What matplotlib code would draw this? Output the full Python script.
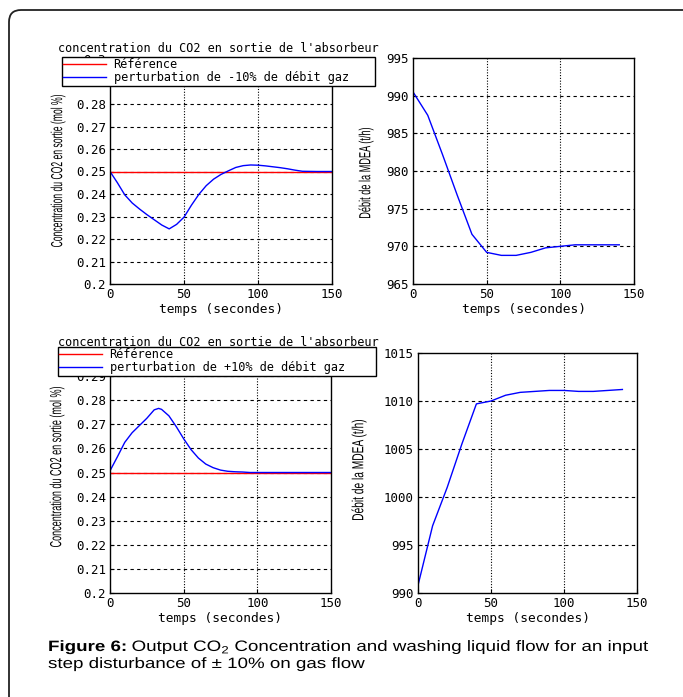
import matplotlib
matplotlib.use('Agg')
import matplotlib.pyplot as plt
from matplotlib.patches import FancyBboxPatch, PathPatch
from matplotlib.transforms import IdentityTransform, Affine2D
from matplotlib.textpath import TextPath
from matplotlib.font_manager import FontProperties

# data
t_neg = [0, 5, 10, 15, 20, 25, 30, 35, 40, 45, 50, 55, 60, 65, 70, 75, 80, 85, 90, 95,
         100, 105, 110, 115, 120, 125, 130, 140, 150]
co2_neg = [0.2500, 0.2450, 0.2396, 0.2360, 0.2333, 0.2308, 0.2285, 0.2262, 0.2245, 0.2265,
           0.2297, 0.2350, 0.2398, 0.2437, 0.2466, 0.2487, 0.2503, 0.2518, 0.2526, 0.2529,
           0.2528, 0.2525, 0.2521, 0.2517, 0.2512, 0.2506, 0.2501, 0.2500, 0.2500]

t_pos = [0, 5, 10, 15, 20, 25, 30, 33, 35, 40, 45, 50, 55, 60, 65, 70, 75, 80, 85, 90,
         95, 100, 150]
co2_pos = [0.2507, 0.2565, 0.2625, 0.2665, 0.2695, 0.2725, 0.2760, 0.2766, 0.2762, 0.2735,
           0.2690, 0.2640, 0.2595, 0.2560, 0.2535, 0.2520, 0.2510, 0.2505, 0.2503, 0.2502,
           0.2500, 0.2500, 0.2500]

t_ref = [0, 150]
co2_ref = [0.25, 0.25]

t_mdea = [0, 10, 20, 30, 40, 50, 60, 70, 80, 90, 100, 110, 120, 130, 140]
mdea_neg = [990.5, 987.4, 982.2, 976.8, 971.6, 969.2, 968.8, 968.8, 969.2, 969.8,
            970.0, 970.2, 970.2, 970.2, 970.2]
mdea_pos = [990.8, 997.0, 1001.0, 1005.5, 1009.7, 1010.0, 1010.6, 1010.9, 1011.0, 1011.1,
            1011.1, 1011.0, 1011.0, 1011.1, 1011.2]

co2_ticks = [0.2, 0.21, 0.22, 0.23, 0.24, 0.25, 0.26, 0.27, 0.28, 0.29, 0.3]
co2_ticklabels = ['0.2', '0.21', '0.22', '0.23', '0.24', '0.25', '0.26', '0.27', '0.28', '0.29', '0.3']
t_ticks = [0, 50, 100, 150]

title = "concentration du CO2 en sortie de l'absorbeur"
xlab = 'temps (secondes)'
ylab_co2 = 'Concentration du CO2 en sortie (mol %)'
ylab_mdea = 'Débit de la MDEA (t/h)'

W, H = 683, 697
fig = plt.figure(figsize=(W / 100, H / 100), dpi=100)
plt.rcParams['mathtext.fontset'] = 'custom'
plt.rcParams['mathtext.rm'] = 'Liberation Sans'

mono = 'DejaVu Sans Mono'
tick_font = 9


def path_text(s, x, y, size, sx=1.0, weight='normal', family='Liberation Sans',
              rotate=False, center=False, length=None):
    # text drawn as a path so it can be squeezed or stretched along its length
    fp = FontProperties(family=family, weight=weight)
    tp = TextPath((0, 0), s, size=size, prop=fp)
    ext = tp.get_extents()
    if length is not None:
        sx = length / ext.width
    tr = Affine2D()
    if center:
        tr.translate(-(ext.x0 + ext.width / 2), -(ext.y0 + ext.height / 2))
    tr.scale(sx, 1)
    if rotate:
        tr.rotate_deg(90)
    tr.translate(x, H - y)
    fig.add_artist(PathPatch(tr.transform_path(tp), transform=IdentityTransform(),
                             fc='k', ec='none', lw=0))
    return x + ext.x1 * sx


def style(ax, ylim, yticks, ylabels=None):
    ax.set_xlim(0, 150)
    ax.set_ylim(*ylim)
    ax.set_xticks(t_ticks)
    ax.set_yticks(yticks)
    if ylabels is not None:
        ax.set_yticklabels(ylabels)
    ax.tick_params(direction='in', length=3, labelsize=tick_font, pad=3)
    for lab in ax.get_xticklabels() + ax.get_yticklabels():
        lab.set_family(mono)
    for yv in yticks[1:-1]:
        ax.axhline(yv, color='k', lw=0.8, ls=(0, (3, 3)), zorder=1)
    for xv in t_ticks[1:-1]:
        ax.axvline(xv, color='k', lw=0.8, ls=(0, (1, 1.5)), zorder=1)
    for s in ax.spines.values():
        s.set_linewidth(1.0)
    ax.set_xlabel(xlab, fontsize=9.3, family=mono, labelpad=1)


def ax_at(x0, y0, x1, y1):
    return fig.add_axes([x0 / W, 1 - y1 / H, (x1 - x0) / W, (y1 - y0) / H])


leg_kw = dict(loc='upper left', mode='expand', fancybox=False, edgecolor='k', framealpha=1,
              borderpad=0.12, labelspacing=0.0, handlelength=3.6, handletextpad=0.6,
              borderaxespad=0, prop={'family': mono, 'size': 8.6})

# top left
ax1 = ax_at(110, 59, 332, 284)
l1, = ax1.plot(t_ref, co2_ref, color='r', lw=1)
l2, = ax1.plot(t_neg, co2_neg, color='b', lw=1)
style(ax1, (0.2, 0.3), co2_ticks, co2_ticklabels)
fig.text(218 / W, 1 - 48 / H, title, fontsize=8.5, family=mono, ha='center', va='center')
fig.legend([l1, l2], ['Référence', 'perturbation de -10% de débit gaz'],
           bbox_to_anchor=(62 / W, 1 - 83 / H, 313 / W, 26 / H), **leg_kw)
path_text(ylab_co2, 58, 171, 16, rotate=True, center=True, length=152)

# top right
ax2 = ax_at(413, 58, 634, 284)
ax2.plot(t_mdea, mdea_neg, color='b', lw=1)
style(ax2, (965, 995), [965, 970, 975, 980, 985, 990, 995])
path_text(ylab_mdea, 366, 173, 16, rotate=True, center=True, length=90)

# bottom left
ax3 = ax_at(110, 352, 331, 593)
l3, = ax3.plot(t_ref, co2_ref, color='r', lw=1)
l4, = ax3.plot(t_pos, co2_pos, color='b', lw=1)
style(ax3, (0.2, 0.3), co2_ticks, co2_ticklabels)
fig.text(218 / W, 1 - 342 / H, title, fontsize=8.5, family=mono, ha='center', va='center')
fig.legend([l3, l4], ['Référence', 'perturbation de +10% de débit gaz'],
           bbox_to_anchor=(58 / W, 1 - 375 / H, 318 / W, 28 / H), **leg_kw)
path_text(ylab_co2, 57, 467, 16, rotate=True, center=True, length=160)

# bottom right
ax4 = ax_at(418, 353, 637, 593)
ax4.plot(t_mdea, mdea_pos, color='b', lw=1)
style(ax4, (990, 1015), [990, 995, 1000, 1005, 1010, 1015])
path_text(ylab_mdea, 359, 470, 16, rotate=True, center=True, length=100)

# outer frame, open at right and bottom
frame = FancyBboxPatch((9, -60), 900, H - 10 + 60, boxstyle='round,pad=0,rounding_size=12',
                       transform=IdentityTransform(), fill=False, edgecolor='#222222', lw=1.3)
fig.add_artist(frame)

# caption (stretched horizontally like the reference)
cap_sx = 1.25
cap_size = 15
xe = path_text('Figure 6:', 48, 651, cap_size, sx=cap_sx, weight='bold')
path_text(r' Output CO$_2$ Concentration and washing liquid flow for an input',
          xe + 1, 651, cap_size, sx=cap_sx)
path_text('step disturbance of \u00b1 10% on gas flow', 48, 668, cap_size, sx=cap_sx)

fig.savefig('out.png', dpi=100)
